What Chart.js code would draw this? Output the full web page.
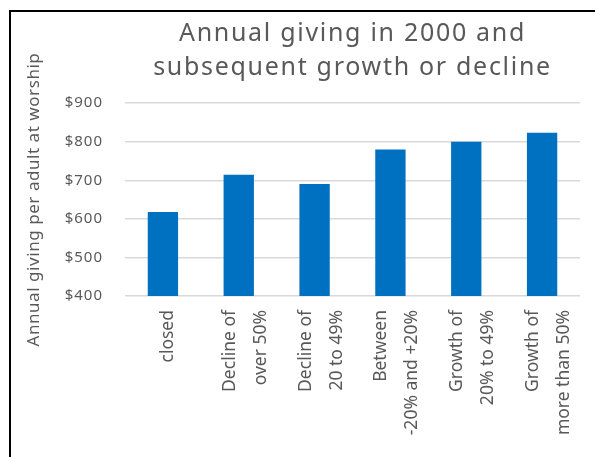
<!DOCTYPE html>
<html>
<head>
<meta charset="utf-8">
<script src="https://cdn.jsdelivr.net/npm/chart.js@4.4.1/dist/chart.umd.min.js"></script>
<style>
  html, body { margin: 0; padding: 0; background: #fff; }
  #wrap { position: relative; width: 595px; height: 457px; }
  #frame { position: absolute; left: 9px; top: 10px; right: 0; bottom: 0; border-left: 2px solid #000; border-top: 2px solid #000; pointer-events: none; }
</style>
</head>
<body>
<div id="wrap">
  <canvas id="givingChart" width="595" height="457"></canvas>
  <div id="frame"></div>
</div>
<script>
// Giving per adult in 2000, grouped by how the congregation changed afterwards
const categories = [
  ['closed'],
  ['Decline of', 'over 50%'],
  ['Decline of', '20 to 49%'],
  ['Between', '-20% and +20%'],
  ['Growth of', '20% to 49%'],
  ['Growth of', 'more than 50%']
];
const givingValues = [618, 714, 690, 780, 800, 823];
const yTicks = [400, 500, 600, 700, 800, 900];

const titleLines = ['Annual giving in 2000 and', 'subsequent growth or decline'];
const yTitle = 'Annual giving per adult at worship';

const grey = '#595959';
const fontFamily = '"Noto Sans", "Open Sans", sans-serif';

// run a draw method with a wider letter spacing (the text is drawn slightly stretched)
function spaced(obj, method, px) {
  const orig = obj[method];
  obj[method] = function (...args) {
    const c = this.ctx;
    const prev = c.letterSpacing;
    c.letterSpacing = px + 'px';
    orig.apply(this, args);
    c.letterSpacing = prev;
  };
}

const textTweaks = {
  id: 'textTweaks',
  beforeDraw(chart) {
    if (chart.$tweaked) return;
    chart.$tweaked = true;
    spaced(chart.titleBlock, 'draw', 1.7);
    spaced(chart.scales.y, 'drawLabels', 1);
    spaced(chart.scales.y, 'drawTitle', 0.55);
    // single-line labels sit a little right of the bar, two-line blocks start left of it
    chart.scales.x.getLabelItems(chart.chartArea).forEach(item => {
      const lines = Array.isArray(item.label) ? item.label.length : 1;
      item.options.translation[0] += lines === 1 ? 5 : -9;
    });
  }
};

const ctx = document.getElementById('givingChart').getContext('2d');
new Chart(ctx, {
  type: 'bar',
  data: {
    labels: categories,
    datasets: [{
      data: givingValues,
      backgroundColor: '#0070C0',
      borderWidth: 0,
      categoryPercentage: 0.4,
      barPercentage: 1
    }]
  },
  plugins: [textTweaks],
  options: {
    responsive: false,
    animation: false,
    layout: { padding: { left: 22, right: 15, top: 8, bottom: 8 } },
    plugins: {
      legend: { display: false },
      tooltip: { enabled: false },
      title: {
        display: true,
        fullSize: false,
        text: titleLines,
        color: grey,
        font: { family: fontFamily, size: 25, weight: 'normal', lineHeight: '33.3px' },
        padding: { top: 9.5, bottom: 19 }
      }
    },
    scales: {
      x: {
        grid: { display: false, drawTicks: false },
        border: { display: false },
        ticks: {
          color: grey,
          font: { family: fontFamily, size: 17.5, lineHeight: '31px' },
          minRotation: 90,
          maxRotation: 90,
          autoSkip: false,
          padding: 14
        },
        afterFit: (scale) => {
          scale.height = 153;
          // keep the rotated labels from pulling the plot area in
          scale.paddingLeft = 0;
          scale.paddingRight = 0;
        }
      },
      y: {
        min: yTicks[0],
        max: yTicks[yTicks.length - 1],
        afterBuildTicks: (scale) => { scale.ticks = yTicks.map(v => ({ value: v })); },
        grid: { color: '#D9D9D9', lineWidth: 1.5, drawTicks: false },
        border: { display: false },
        ticks: {
          color: grey,
          font: { family: fontFamily, size: 15 },
          padding: 22,
          callback: (v) => '$' + v
        },
        title: {
          display: true,
          text: yTitle,
          color: grey,
          font: { family: fontFamily, size: 17 },
          padding: { top: 2, bottom: 0 }
        },
        afterFit: (scale) => { scale.width = 103; }
      }
    }
  }
});
</script>
</body>
</html>
